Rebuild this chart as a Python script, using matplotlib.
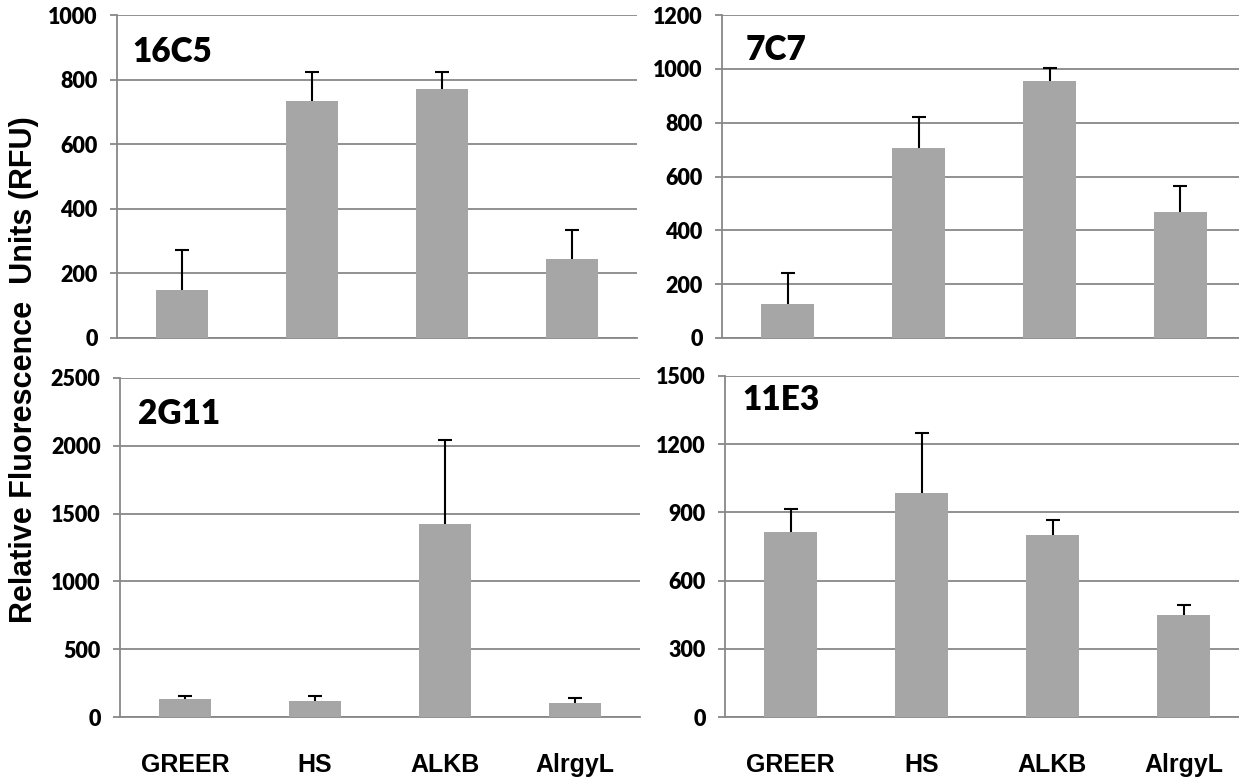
import matplotlib
matplotlib.use("Agg")
import matplotlib.pyplot as plt
import numpy as np

plt.rcParams["font.family"] = ["Lato", "DejaVu Sans"]
plt.rcParams["font.weight"] = "heavy"

categories = ["GREER", "HS", "ALKB", "AlrgyL"]

panel_names = ["16C5", "7C7", "2G11", "11E3"]
vals_16c5 = [150, 735, 772, 245]
err_16c5 = [122, 90, 53, 88]
vals_7c7 = [125, 705, 955, 467]
err_7c7 = [115, 115, 48, 98]
vals_2g11 = [130, 120, 1420, 105]
err_2g11 = [25, 35, 625, 35]
vals_11e3 = [815, 985, 800, 450]
err_11e3 = [100, 265, 65, 42]

ymax = [1000, 1200, 2500, 1500]
ystep = [200, 200, 500, 300]

values = [vals_16c5, vals_7c7, vals_2g11, vals_11e3]
errors = [err_16c5, err_7c7, err_2g11, err_11e3]

W, H = 1239, 782
fig = plt.figure(figsize=(W / 100, H / 100), dpi=100)

# axes boxes in pixels: left, top, right, bottom
boxes = [(117, 15, 637, 338),
         (722, 15, 1246, 338),
         (120, 378, 640, 717),
         (725, 376, 1249, 717)]
label_pos = [(0.03, 0.855), (0.045, 0.86), (0.035, 0.865), (0.033, 0.9)]

grid_col = "#888888"
bar_col = "#a6a6a6"

for i in range(4):
    l, t, r, b = boxes[i]
    ax = fig.add_axes([l / W, 1 - b / H, (r - l) / W, (b - t) / H])
    x = np.arange(len(categories))
    ax.bar(x, values[i], width=0.4, color=bar_col, zorder=3)
    eb = ax.errorbar(x, values[i], yerr=[np.zeros(4), errors[i]], fmt="none",
                     ecolor="black", elinewidth=1.5, capsize=5, capthick=1.5, zorder=4)
    # only the upper cap is shown
    eb[1][0].set_visible(False)
    ax.set_xlim(-0.5, 3.5)
    ax.set_ylim(0, ymax[i])
    ax.set_yticks(np.arange(0, ymax[i] + 1, ystep[i]))
    ax.yaxis.grid(True, color=grid_col, linewidth=1.3, zorder=0)
    for s in ["top", "right"]:
        ax.spines[s].set_visible(False)
    for s in ["left", "bottom"]:
        ax.spines[s].set_color(grid_col)
        ax.spines[s].set_linewidth(1.3)
    ax.tick_params(axis="y", length=5, width=1.3, color=grid_col, pad=9, labelsize=15.5)
    if i >= 2:
        ax.set_xticks(x)
        ax.set_xticklabels(categories, fontfamily="Liberation Sans",
                           fontweight="bold", fontsize=18)
        ax.tick_params(axis="x", length=0, pad=26)
    else:
        ax.set_xticks([])
    ax.text(label_pos[i][0], label_pos[i][1], panel_names[i], transform=ax.transAxes,
            fontsize=24, va="baseline")

fig.text(24 / W, 1 - 370 / H, "Relative Fluorescence  Units (RFU)", rotation=90,
         ha="center", va="center", fontfamily="Liberation Sans",
         fontweight="bold", fontsize=22)

fig.savefig("out.png", dpi=100)
